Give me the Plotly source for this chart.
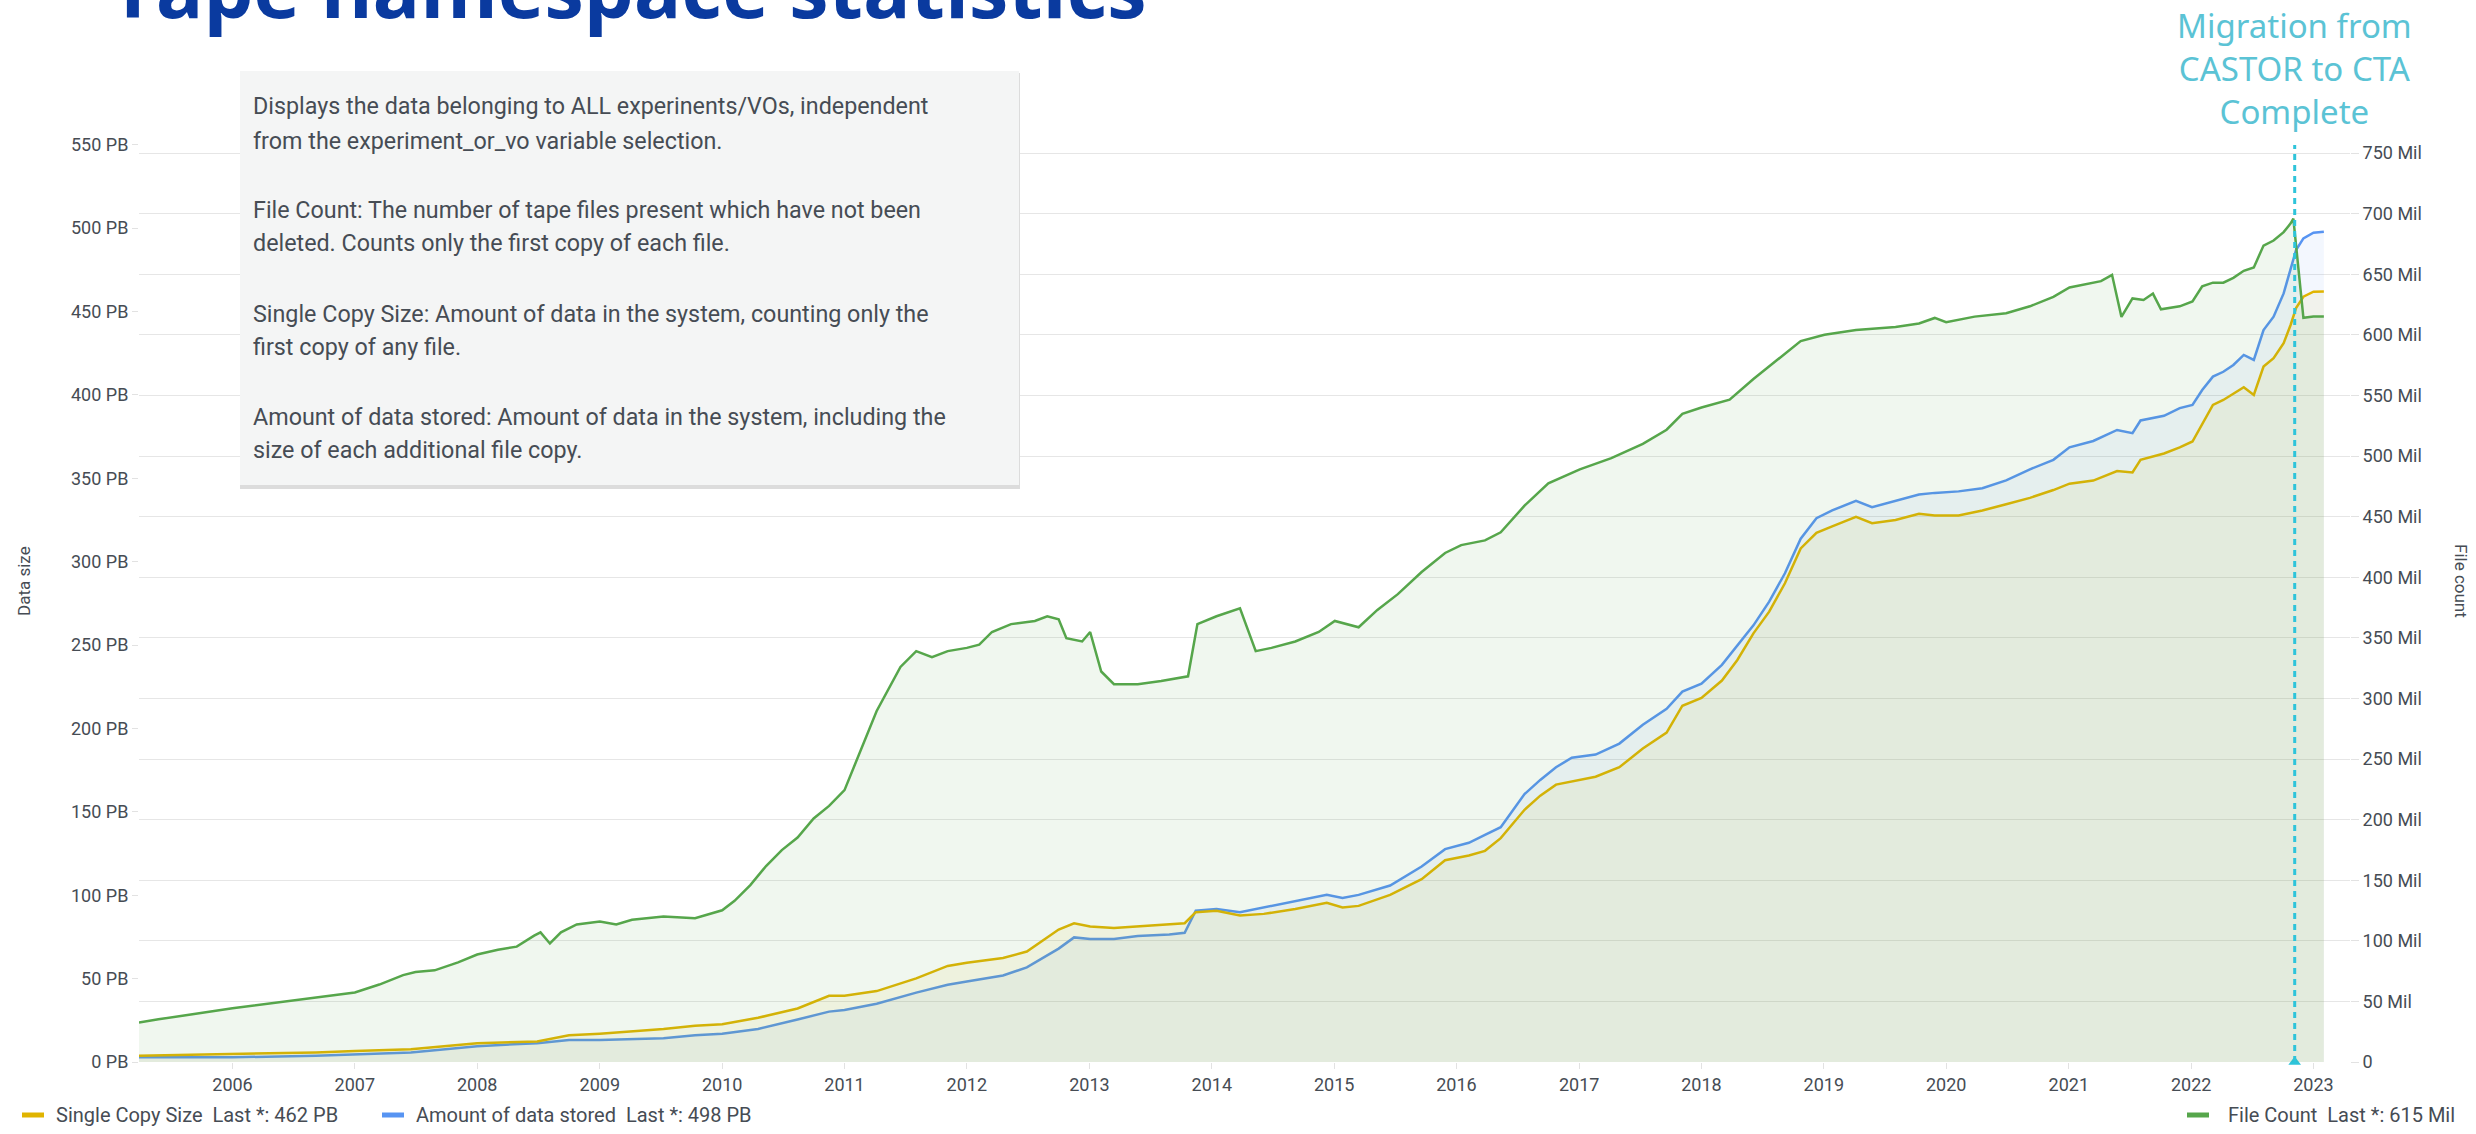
import plotly.graph_objects as go

# ---------------- data ----------------
size_dates = [
    "2005-03-28", "2006-01-01", "2006-09-07", "2007-01-01", "2007-06-17", "2008-01-01", "2008-06-28",
    "2008-10-01", "2009-01-01", "2009-07-10", "2009-10-12", "2010-01-01", "2010-04-18", "2010-08-14",
    "2010-11-16", "2011-01-01", "2011-04-07", "2011-08-03", "2011-11-05", "2012-01-01", "2012-04-18",
    "2012-06-28", "2012-10-01", "2012-11-16", "2013-01-03", "2013-03-15", "2013-05-25", "2013-08-27",
    "2013-10-12", "2013-11-14", "2014-01-15", "2014-03-26", "2014-06-05", "2014-09-07", "2014-12-10",
    "2015-01-26", "2015-03-15", "2015-06-17", "2015-09-19", "2015-11-28", "2016-02-07", "2016-03-26",
    "2016-05-12", "2016-07-22", "2016-09-07", "2016-10-24", "2016-12-10", "2017-02-19", "2017-05-01",
    "2017-07-10", "2017-09-19", "2017-11-05", "2018-01-01", "2018-03-03", "2018-04-18", "2018-06-05",
    "2018-07-22", "2018-09-07", "2018-10-24", "2018-12-10", "2019-01-26", "2019-04-07", "2019-05-25",
    "2019-08-03", "2019-10-12", "2019-11-28", "2020-02-07", "2020-04-18", "2020-06-28", "2020-09-07",
    "2020-11-16", "2021-01-03", "2021-03-15", "2021-05-25", "2021-07-10", "2021-08-03", "2021-10-12",
    "2021-11-28", "2022-01-05", "2022-02-03", "2022-03-07", "2022-04-07", "2022-05-07", "2022-06-07",
    "2022-07-07", "2022-08-05", "2022-09-04", "2022-10-04", "2022-10-25", "2022-11-10", "2022-12-02",
    "2023-01-01", "2023-02-01",
]

amount_stored_pb = [
    2.8, 2.8, 3.8, 4.7, 5.7, 9.5, 11.3, 13.2, 13.2, 14.2, 16, 17, 19.8, 25.5,
    30.2, 31.2, 34.9, 41.6, 46.3, 48.2, 51.9, 56.7, 68, 74.7, 73.7, 73.7, 75.6, 76.5,
    77.5, 90.7, 91.7, 89.8, 92.6, 96.4, 100.2, 98.3, 100.2, 105.8, 117.2, 127.6, 131.4, 136.1,
    140.8, 160.6, 169.1, 176.7, 182.4, 184.3, 190.9, 202.2, 211.7, 222.1, 226.8, 238.1, 249.5, 261.8,
    276, 293, 313.7, 326, 330.7, 336.4, 332.6, 336.4, 340.2, 341.2, 342.1, 344, 348.7, 355.3,
    361, 368.5, 372.3, 378.9, 377, 384.6, 387.4, 392, 393.9, 402.9, 410.9, 413.8, 417.9, 423.9,
    420.9, 438.8, 446.8, 460.8, 474.8, 486.8, 493.8, 497.2, 497.8,
]

single_copy_pb = [
    3.8, 4.7, 5.7, 6.6, 7.6, 11.3, 12.3, 16, 17, 19.8, 21.7, 22.7, 26.5, 32.1,
    39.7, 39.7, 42.5, 50.1, 57.6, 59.5, 62.4, 66.2, 79.4, 83.2, 81.3, 80.3, 81.3, 82.2,
    83.2, 89.8, 90.7, 87.9, 88.8, 91.7, 95.4, 92.6, 93.6, 100.2, 109.6, 121, 123.8, 126.6,
    134.2, 151.2, 159.7, 166.3, 168.2, 171, 176.7, 188, 197.5, 213.6, 218.3, 228.7, 241, 257,
    270, 287, 307.9, 317.3, 321.1, 326.8, 323, 324.9, 328.7, 327.7, 327.7, 330.6, 334.4, 338.2,
    342.9, 346.7, 348.6, 354.3, 353.4, 361, 364.8, 368.5, 372, 382, 393.9, 396.9, 400.9, 404.5,
    399.9, 416.9, 421.9, 430.9, 442, 452, 458.8, 461.8, 462,
]

count_dates = [
    "2005-03-28", "2005-05-25", "2006-01-01", "2006-06-28", "2007-01-01", "2007-03-15", "2007-05-25",
    "2007-07-01", "2007-08-27", "2007-11-05", "2008-01-01", "2008-03-03", "2008-04-28", "2008-06-19",
    "2008-07-08", "2008-08-05", "2008-09-07", "2008-10-24", "2009-01-01", "2009-02-19", "2009-04-07",
    "2009-07-10", "2009-10-12", "2010-01-01", "2010-02-07", "2010-03-26", "2010-05-12", "2010-06-28",
    "2010-08-14", "2010-10-01", "2010-11-16", "2011-01-01", "2011-02-19", "2011-04-07", "2011-06-17",
    "2011-08-03", "2011-09-19", "2011-11-05", "2012-01-01", "2012-02-07", "2012-03-16", "2012-05-12",
    "2012-07-22", "2012-08-28", "2012-10-01", "2012-10-24", "2012-12-10", "2013-01-03", "2013-02-05",
    "2013-03-15", "2013-05-25", "2013-08-03", "2013-10-22", "2013-11-19", "2014-01-15", "2014-03-26",
    "2014-05-12", "2014-06-28", "2014-09-07", "2014-11-16", "2015-01-03", "2015-03-15", "2015-05-10",
    "2015-07-10", "2015-09-19", "2015-11-28", "2016-01-15", "2016-03-26", "2016-05-12", "2016-07-22",
    "2016-10-01", "2017-01-03", "2017-04-07", "2017-07-10", "2017-09-19", "2017-11-05", "2018-01-01",
    "2018-03-26", "2018-06-05", "2018-08-14", "2018-10-24", "2019-01-03", "2019-04-07", "2019-08-03",
    "2019-10-12", "2019-11-28", "2020-01-01", "2020-03-26", "2020-06-28", "2020-09-07", "2020-11-16",
    "2021-01-03", "2021-04-07", "2021-05-10", "2021-06-07", "2021-07-10", "2021-08-12", "2021-09-09",
    "2021-10-03", "2021-11-28", "2022-01-05", "2022-02-03", "2022-03-07", "2022-04-07", "2022-05-07",
    "2022-06-07", "2022-07-07", "2022-08-05", "2022-09-04", "2022-10-04", "2022-10-25", "2022-11-02",
    "2022-12-02", "2023-01-01", "2023-02-01",
]

file_count_mil = [
    32.6, 35.2, 44.3, 50.9, 57.4, 63.9, 71.7,
    74.3, 75.6, 82.2, 88.7, 92.6, 95.2, 104.3,
    107, 97.8, 107, 113.5, 116, 113.5, 117.4,
    120, 118.7, 125.2, 133, 146, 161.7, 174.8,
    185.2, 200.9, 211.3, 224.3, 257, 289.6, 326,
    339, 334, 339, 341.7, 344.3, 354.8, 361.3,
    363.9, 367.8, 365.2, 349.6, 347, 354.8, 322.2,
    311.7, 311.7, 314.3, 318.2, 361.3, 367.8, 374.3,
    339, 341.7, 347, 354.8, 363.9, 358.7, 373,
    386, 404.3, 420, 426.5, 430.4, 437, 459,
    477.4, 489, 498.2, 510, 521.7, 534.8, 540,
    546.5, 563.5, 579, 594.8, 600, 604, 606.5,
    609.3, 613.9, 610.4, 615, 617.8, 623.5, 631.3,
    639, 644.3, 649.5, 614.8, 630, 628.7, 634,
    621, 623.5, 627.5, 640, 643, 643, 647,
    652.8, 655.6, 673.6, 677.8, 684.7, 692, 695.8,
    614, 615, 615,
]

migration_date = "2022-11-06"
migration_text = "Migration from<br>CASTOR to CTA<br>Complete"

x_range = ["2005-03-28", "2023-04-20"]
left_ticks = list(range(0, 551, 50))
left_ticktext = [f"{v} PB" for v in left_ticks]
right_ticks = list(range(0, 751, 50))
right_ticktext = ["0"] + [f"{v} Mil" for v in right_ticks[1:]]

info_lines = [
    "Displays the data belonging to ALL experinents/VOs, independent",
    "from the experiment_or_vo variable selection.",
    "File Count: The number of tape files present which have not been",
    "deleted. Counts only the first copy of each file.",
    "Single Copy Size: Amount of data in the system, counting only the",
    "first copy of any file.",
    "Amount of data stored: Amount of data in the system, including the",
    "size of each additional file copy.",
]

# ---------------- layout geometry (pixels) ----------------
W, H = 2476, 1134
L, R, T, B = 139, 2350, 140, 1062
PW, PH = R - L, B - T


def px(x):
    return (x - L) / PW


def py(y):
    return (B - y) / PH


YELLOW = "#E0B400"
BLUE = "#5794F2"
GREEN = "#56A64B"
CYAN = "#2EC4DA"
TXT = "#464C54"
FONT = "Roboto, Liberation Sans, sans-serif"

fig = go.Figure()

fig.add_trace(go.Scatter(
    x=count_dates, y=file_count_mil, name="File Count", yaxis="y2",
    mode="lines", line=dict(color=GREEN, width=2.5),
    fill="tozeroy", fillcolor="rgba(86,166,75,0.09)",
))
fig.add_trace(go.Scatter(
    x=size_dates, y=amount_stored_pb, name="Amount of data stored",
    mode="lines", line=dict(color=BLUE, width=2.5),
    fill="tozeroy", fillcolor="rgba(87,148,242,0.07)",
))
fig.add_trace(go.Scatter(
    x=size_dates, y=single_copy_pb, name="Single Copy Size",
    mode="lines", line=dict(color=YELLOW, width=2.5),
    fill="tozeroy", fillcolor="rgba(224,180,0,0.07)",
))
# annotation marker (triangle at base of the event line)
fig.add_trace(go.Scatter(
    x=[migration_date], y=[0], mode="markers", cliponaxis=False,
    marker=dict(symbol="triangle-up", size=11, color=CYAN),
    hoverinfo="skip",
))

shapes = [
    dict(type="line", xref="x", yref="paper", x0=migration_date, x1=migration_date,
         y0=0, y1=py(145), line=dict(color=CYAN, width=3, dash="6px,5px"), layer="above"),
    # tooltip box shadow + body
    dict(type="rect", xref="paper", yref="paper", x0=px(240), x1=px(1020), y0=py(489), y1=py(73),
         fillcolor="#dcdcdc", line=dict(width=0), layer="above"),
    dict(type="rect", xref="paper", yref="paper", x0=px(240), x1=px(1019), y0=py(485), y1=py(71),
         fillcolor="#f4f5f5", line=dict(width=0), layer="above"),
    # legend swatches
    dict(type="line", xref="paper", yref="paper", x0=px(22), x1=px(44), y0=py(1115), y1=py(1115),
         line=dict(color=YELLOW, width=5)),
    dict(type="line", xref="paper", yref="paper", x0=px(382), x1=px(404), y0=py(1115), y1=py(1115),
         line=dict(color=BLUE, width=5)),
    dict(type="line", xref="paper", yref="paper", x0=px(2187), x1=px(2209), y0=py(1115), y1=py(1115),
         line=dict(color=GREEN, width=5)),
]

annotations = [
    dict(text="<b>Tape namespace statistics</b>", xref="paper", yref="paper",
         x=px(108), y=py(43), xanchor="left", yanchor="bottom", showarrow=False,
         font=dict(family="Open Sans, Roboto, sans-serif", size=79, color="#0A3A9F")),
    dict(text=migration_text, xref="x", yref="paper", x=migration_date, y=py(136),
         xanchor="center", yanchor="bottom", showarrow=False, align="center",
         font=dict(family="Noto Sans, Open Sans, sans-serif", size=33, color="#5BC3D5")),
    dict(text="Data size", xref="paper", yref="paper", x=px(24), y=py(581), textangle=-90,
         xanchor="center", yanchor="middle", showarrow=False,
         font=dict(family=FONT, size=17, color=TXT)),
    dict(text="File count", xref="paper", yref="paper", x=px(2461), y=py(581), textangle=90,
         xanchor="center", yanchor="middle", showarrow=False,
         font=dict(family=FONT, size=17, color=TXT)),
    dict(text="Single Copy Size\u00a0\u00a0Last *: 462 PB", xref="paper", yref="paper",
         x=px(54), y=py(1115), xanchor="left", yanchor="middle", showarrow=False,
         font=dict(family=FONT, size=20, color=TXT)),
    dict(text="Amount of data stored\u00a0\u00a0Last *: 498 PB", xref="paper", yref="paper",
         x=px(414), y=py(1115), xanchor="left", yanchor="middle", showarrow=False,
         font=dict(family=FONT, size=20, color=TXT)),
    dict(text="File Count\u00a0\u00a0Last *: 615 Mil", xref="paper", yref="paper",
         x=px(2457), y=py(1115), xanchor="right", yanchor="middle", showarrow=False,
         font=dict(family=FONT, size=20, color=TXT)),
]

info_y = [106, 140.5, 210, 243, 314, 347, 417, 450]
for line, yy in zip(info_lines, info_y):
    annotations.append(dict(text=line, xref="paper", yref="paper", x=px(251), y=py(yy),
                            xanchor="left", yanchor="middle", showarrow=False,
                            font=dict(family=FONT, size=23.3, color=TXT)))

fig.update_layout(
    width=W, height=H,
    margin=dict(l=L, r=W - R, t=T, b=H - B, autoexpand=False),
    paper_bgcolor="white", plot_bgcolor="white",
    showlegend=False,
    font=dict(family=FONT, size=18, color=TXT),
    xaxis=dict(type="date", range=x_range, tick0="2006-01-01", dtick="M12", tickformat="%Y",
               showgrid=False, zeroline=False, showline=False,
               ticks="outside", ticklen=6, tickcolor="#e2e2e2",
               tickfont=dict(family=FONT, size=18, color=TXT)),
    yaxis=dict(range=[0, PH * 50 / 83.4], tickvals=left_ticks, ticktext=left_ticktext,
               showgrid=False, zeroline=False, showline=False,
               ticks="outside", ticklen=6, tickcolor="#e2e2e2",
               tickfont=dict(family=FONT, size=18, color=TXT)),
    yaxis2=dict(range=[0, PH * 50 / 60.6], tickvals=right_ticks, ticktext=right_ticktext,
                overlaying="y", side="right", showgrid=True, gridcolor="#e6e6e6", gridwidth=1,
                zeroline=False, showline=False,
                ticks="outside", ticklen=8, tickcolor="#e2e2e2",
                tickfont=dict(family=FONT, size=18, color=TXT)),
    shapes=shapes,
    annotations=annotations,
)

fig.write_html(
    "out.html",
    config={"displayModeBar": False},
    post_script="document.body.style.margin='0';document.body.style.overflow='hidden';",
)
